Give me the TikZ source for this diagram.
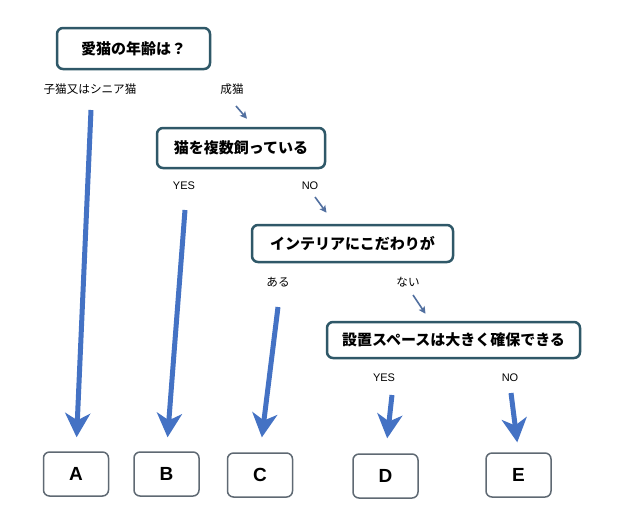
\documentclass[tikz,border=0pt]{standalone}
\usepackage{fontspec}
\setmainfont{Liberation Sans}
\newfontfamily\jp{Noto Sans CJK JP}
\usetikzlibrary{arrows.meta,calc}
\definecolor{bigblue}{RGB}{68,114,196}
\definecolor{smallblue}{RGB}{82,112,160}
\definecolor{qborder}{RGB}{47,88,104}
\definecolor{aborder}{RGB}{95,105,115}
\begin{document}
\begin{tikzpicture}[x=1pt,y=-1pt,
  question/.style={draw=qborder, line width=2.5pt, rounded corners=6pt, fill=white, inner sep=0pt,
    font=\jp\bfseries\fontsize{15}{18}\selectfont},
  answer/.style={draw=aborder, line width=1.5pt, rounded corners=6pt, fill=white,
    minimum width=65pt, minimum height=44pt, inner sep=0pt,
    font=\bfseries\fontsize{19}{22}\selectfont},
  lbl/.style={inner sep=0pt, font=\jp\fontsize{11.6}{13}\selectfont},
  lbllat/.style={inner sep=0pt, font=\fontsize{11}{13}\selectfont},
  bigarrow/.style={draw=bigblue, line width=5pt, -{Stealth[length=24pt,width=25pt,inset=7pt]}},
  smallarrow/.style={draw=smallblue, line width=1.6pt, -{Stealth[length=7pt,width=7pt,inset=1.5pt]}}
]
\useasboundingbox (0,0) rectangle (617,531);
\fill[white] (0,0) rectangle (617,531);

% question boxes
\node[question, minimum width=153pt, minimum height=41pt] (q1) at (133.5,48.5) {愛猫の年齢は？};
\node[question, minimum width=168pt, minimum height=40pt] (q2) at (241,148) {猫を複数飼っている};
\node[question, minimum width=201pt, minimum height=37pt] (q3) at (352.5,243.5) {インテリアにこだわりが};
\node[question, minimum width=253pt, minimum height=36pt] (q4) at (453.5,340) {設置スペースは大きく確保できる};

% answer boxes
\node[answer] (A) at (76,474) {A};
\node[answer] (B) at (166.5,474) {B};
\node[answer] (C) at (260,475) {C};
\node[answer] (D) at (385.5,476) {D};
\node[answer] (E) at (518.5,475) {E};

% labels
\node[lbl] (l1) at (90,89) {子猫又はシニア猫};
\node[lbl] (l2) at (232,89) {成猫};
\node[lbllat] (l3) at (184,186) {YES};
\node[lbllat] (l4) at (310,186) {NO};
\node[lbl] (l5) at (278,282) {ある};
\node[lbl] (l6) at (408,282) {ない};
\node[lbllat] (l7) at (384,378) {YES};
\node[lbllat] (l8) at (510,378) {NO};

% arrow start / end coordinates
\coordinate (sA) at (91,110);
\coordinate (sB) at (185,210);
\coordinate (sC) at (278,307);
\coordinate (sD) at (392,395);
\coordinate (sE) at (511,393);
\coordinate (s1) at (236,106);
\coordinate (e1) at ($(q2.north)+(6,-8)$);
\coordinate (s2) at (315,197);
\coordinate (e2) at ($(q3.north)+(-26,-11)$);
\coordinate (s3) at (413,295);
\coordinate (e3) at ($(q4.north)+(-28,-7)$);

% big arrows
\draw[bigarrow, shorten >=14pt] (sA) -- (A.north);
\draw[bigarrow, shorten >=14pt] (sB) -- (B.north);
\draw[bigarrow, shorten >=15pt] (sC) -- (C.north);
\draw[bigarrow, shorten >=15pt] (sD) -- (D.north);
\draw[bigarrow, shorten >=10pt] (sE) -- (E.north);

% small arrows
\draw[smallarrow] (s1) -- (e1);
\draw[smallarrow] (s2) -- (e2);
\draw[smallarrow] (s3) -- (e3);
\end{tikzpicture}
\end{document}
